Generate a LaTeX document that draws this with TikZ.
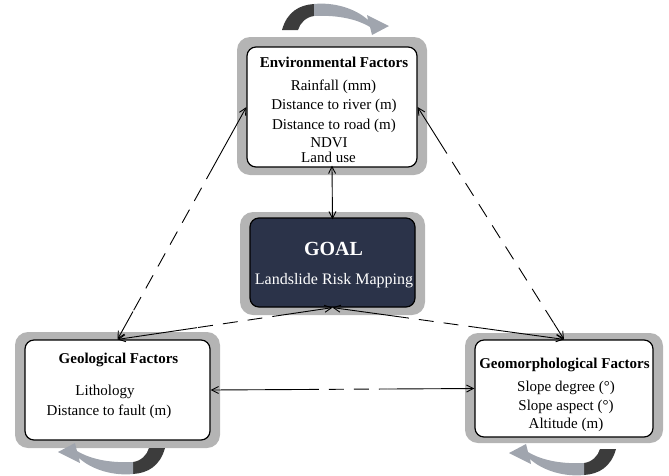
\documentclass[tikz,border=0pt]{standalone}
\usepackage{fontspec}
\setmainfont{Liberation Serif}
\usetikzlibrary{calc,arrows.meta}
\definecolor{frame}{HTML}{B4B4B4}
\definecolor{navy}{HTML}{2B3349}
\definecolor{darkarr}{HTML}{3C3C3C}
\definecolor{lightarr}{HTML}{A0A5AE}
\tikzset{
  halo/.style={draw=none, fill=frame, rounded corners=13pt, inner sep=0pt},
  card/.style={draw=black, line width=1.2pt, fill=white, rounded corners=9pt, inner sep=0pt},
  goalcard/.style={card, fill=navy},
  head/.style={font=\fontsize{15}{18}\selectfont\bfseries, anchor=base, inner sep=0pt},
  item/.style={font=\fontsize{15}{18}\selectfont, anchor=base, inner sep=0pt},
  link/.style={line width=0.9pt, draw=black},
  barb/.tip={Straight Barb[length=7pt,width=7pt]},
  swirl/.pic={
    \fill[darkarr] (-53,12) .. controls (-48,-6) and (-36,-13) .. (-21,-14)
      -- (-21,-2) .. controls (-29,-1) and (-35,5) .. (-37,12) -- cycle;
    \fill[lightarr] (-21,-14) .. controls (-2,-16) and (20,-10) .. (33,2)
      -- (32,-3) -- (54,8) -- (37,17) -- (35,9)
      .. controls (20,0) and (0,-3) .. (-21,-2) -- cycle;
  }
}
\newcommand\mixlink[4]{%
  \draw[link, barb-] (#1) -- ($(#1)!#3!(#2)$);
  \draw[link, dash pattern=on 15pt off 10pt, dash phase=15pt] ($(#1)!#3!(#2)$) -- ($(#1)!#4!(#2)$);
  \draw[link, -barb] ($(#1)!#4!(#2)$) -- (#2);
}
\begin{document}
\begin{tikzpicture}[x=1pt,y=-1pt]
\useasboundingbox (0,0) rectangle (669,475);

% frames
\node[halo, minimum width=190pt, minimum height=138pt] (envO) at (332,106) {};
\node[card, minimum width=170pt, minimum height=120pt] (env) at (332,107) {};
\node[halo, minimum width=185pt, minimum height=103pt] (goalO) at (332.5,263.5) {};
\node[goalcard, minimum width=165pt, minimum height=89pt] (goal) at (332.5,262.5) {};
\node[halo, minimum width=205pt, minimum height=116pt] (geoO) at (117.5,390) {};
\node[card, minimum width=185pt, minimum height=100pt] (geo) at (117.5,390) {};
\node[halo, minimum width=198pt, minimum height=110pt] (geomO) at (564,388) {};
\node[card, minimum width=178pt, minimum height=97pt] (geom) at (564,388.5) {};

% texts
\node[head] (envT) at (334,67.5) {Environmental Factors};
\node[item] (env1) at (333.5,90) {Rainfall (mm)};
\node[item] (env2) at (334,109.5) {Distance to river (m)};
\node[item] (env3) at (334,129) {Distance to road (m)};
\node[item] (env4) at (329,147) {NDVI};
\node[item] (env5) at (328.5,162) {Land use};

\node[head, font=\fontsize{20}{24}\selectfont\bfseries, text=white] (goalT) at (333.5,255) {GOAL};
\node[item, font=\fontsize{16}{19}\selectfont, text=white] (goal1) at (334,284) {Landslide Risk Mapping};

\node[head] (geoT) at (118.5,363) {Geological Factors};
\node[item] (geo1) at (105,395) {Lithology};
\node[item] (geo2) at (109,415) {Distance to fault (m)};

\node[head] (geomT) at (564.5,368) {Geomorphological Factors};
\node[item] (geom1) at (566,391.5) {Slope degree (°)};
\node[item] (geom2) at (566,410) {Slope aspect (°)};
\node[item] (geom3) at (566,428.5) {Altitude (m)};

% connectors
\draw[link, barb-barb, shorten <=-2pt, shorten >=-2pt] (env.south) -- (goal.north);
\mixlink{env.west}{geo.north}{0.31}{0.88}
\mixlink{env.east}{geom.north}{0.2}{0.93}
\mixlink{goal.south}{geo.north}{0.28}{0.63}
\mixlink{goal.south}{geom.north}{0.33}{0.63}
\mixlink{geo.east}{geom.west}{0.41}{0.67}

% cycle arrows
\pic at (335,18) {swirl};
\pic[rotate=180] at (112,460) {swirl};
\pic[rotate=180] at (563,461) {swirl};
\end{tikzpicture}
\end{document}
